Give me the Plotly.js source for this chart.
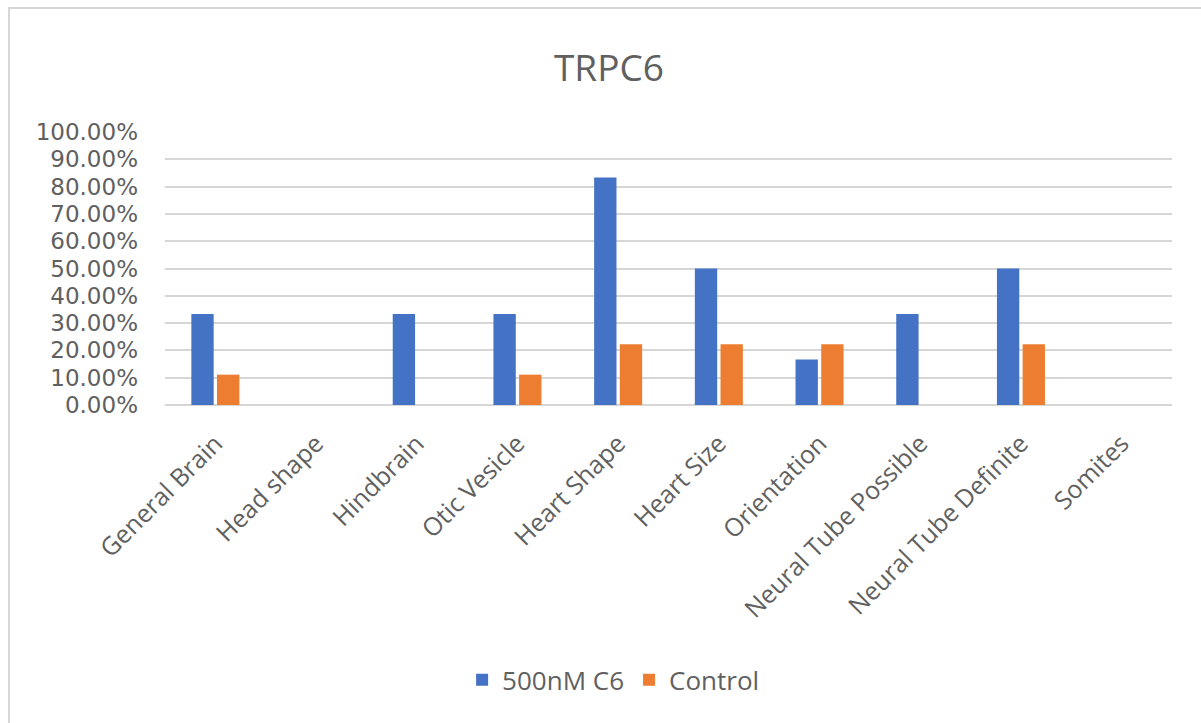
<!DOCTYPE html>
<html>
<head>
<meta charset="utf-8">
<script src="https://cdn.plot.ly/plotly-3.0.1.min.js"></script>
<style>
  html, body { margin: 0; padding: 0; background: #ffffff; }
  #frame {
    position: absolute; left: 8px; top: 7px; width: 1193px; height: 716px;
    border-top: 2px solid #d6d6d6; border-left: 2px solid #d6d6d6;
  }
  #chart { position: absolute; left: 0; top: 0; width: 1201px; height: 723px; }
</style>
</head>
<body>
<div id="frame"></div>
<div id="chart"></div>
<script>
// Phenotype categories scored for each embryo group
const categories = [
  "General Brain", "Head shape", "Hindbrain", "Otic Vesicle", "Heart Shape",
  "Heart Size", "Orientation", "Neural Tube Possible", "Neural Tube Definite", "Somites"
];

// Fraction of embryos showing each phenotype
const treatedName = "500nM C6";
const treatedValues = [0.3333, 0, 0.3333, 0.3333, 0.8333, 0.5, 0.1667, 0.3333, 0.5, 0];

const controlName = "Control";
const controlValues = [0.1111, 0, 0, 0.1111, 0.2222, 0.2222, 0.2222, 0, 0.2222, 0];

const yTicks = [0, 0.1, 0.2, 0.3, 0.4, 0.5, 0.6, 0.7, 0.8, 0.9, 1.0];

const textGray = "#606060";
const fontFam = "'Open Sans', 'Liberation Sans', sans-serif";
const tickFam = "'DejaVu Sans', 'Open Sans', sans-serif";

const traces = [
  {
    type: "bar", name: treatedName, x: categories, y: treatedValues,
    marker: { color: "#4472C4" }, hoverinfo: "x+y"
  },
  {
    type: "bar", name: controlName, x: categories, y: controlValues,
    marker: { color: "#ED7D31" }, hoverinfo: "x+y"
  }
];

const layout = {
  width: 1201, height: 723,
  paper_bgcolor: "rgba(0,0,0,0)",
  plot_bgcolor: "rgba(0,0,0,0)",
  margin: { l: 165, r: 29, t: 132, b: 318 },
  font: { family: fontFam, color: textGray },
  title: {
    text: "TRPC6",
    font: { family: fontFam, size: 37, color: textGray },
    x: 0.507, xanchor: "center",
    y: 0.906, yanchor: "middle"
  },
  barmode: "group",
  bargap: 0.49,
  bargroupgap: 0.13,
  xaxis: {
    type: "category",
    tickangle: -45,
    tickfont: { family: fontFam, size: 25, color: textGray },
    showgrid: false,
    showline: false,
    ticks: "",
    zeroline: false,
    ticklabelstandoff: 18
  },
  yaxis: {
    range: [0, 1.0],
    tickvals: yTicks,
    tickformat: ".2%",
    tickfont: { family: tickFam, size: 23, color: textGray },
    showgrid: true,
    gridcolor: "#d6d6d6",
    gridwidth: 2,
    zeroline: true,
    zerolinecolor: "#d6d6d6",
    zerolinewidth: 2,
    showline: false,
    ticks: "",
    ticklabelstandoff: 26
  },
  showlegend: true,
  legend: {
    orientation: "h",
    x: 0.445, xanchor: "center",
    y: -1.007, yanchor: "middle",
    font: { family: fontFam, size: 26, color: textGray },
    itemwidth: 30,
    traceorder: "normal"
  }
};

Plotly.newPlot("chart", traces, layout, { displayModeBar: false, staticPlot: true });
</script>
</body>
</html>
